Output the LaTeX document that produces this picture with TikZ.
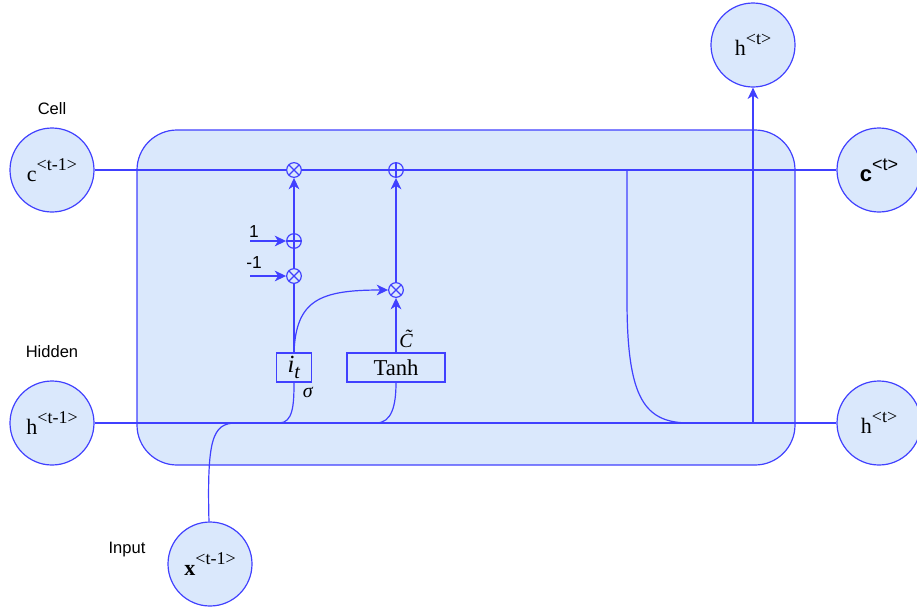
\documentclass[tikz,border=0pt]{standalone}
\usepackage{amsmath}
\usepackage{fontspec}
\setmainfont{Liberation Serif}
\setsansfont{Liberation Sans}
\usepackage[HTML]{xcolor}
\usepackage{tikz}
\usetikzlibrary{positioning, arrows, arrows.meta}

\definecolor{cellfill}{HTML}{DAE8FC}
\definecolor{cellline}{HTML}{4040FF}
\newcommand{\tsup}[1]{\raisebox{0.5em}{\fontsize{13.5}{14}\selectfont #1}}

\begin{document}
\begin{tikzpicture}[x=0.75pt, y=-0.75pt,
  state/.style={circle, draw=cellline, fill=cellfill, line width=0.9pt, minimum size=63pt, inner sep=0pt, font=\fontsize{16.5}{18}\selectfont},
  gate/.style={circle, draw=cellline, fill=cellfill, line width=0.9pt, minimum size=11pt, inner sep=0pt},
  mul/.style={gate, path picture={\draw[cellline, line width=0.9pt] (path picture bounding box.north west) -- (path picture bounding box.south east) (path picture bounding box.north east) -- (path picture bounding box.south west);}},
  add/.style={gate, path picture={\draw[cellline, line width=0.9pt] (path picture bounding box.north) -- (path picture bounding box.south) (path picture bounding box.west) -- (path picture bounding box.east);}},
  opbox/.style={draw=cellline, fill=cellfill, line width=0.9pt, inner sep=0pt, minimum height=21.75pt},
  lbl/.style={font=\sffamily\fontsize{12.4}{14}\selectfont},
  wire/.style={draw=cellline, line width=0.9pt},
  arr/.style={wire, -{Stealth[length=8.5pt, width=8pt, inset=2.5pt]}}]
\useasboundingbox (0,0) rectangle (917,611);
% Cell body
\draw[draw=cellline, fill=cellfill, line width=0.9pt, rounded corners=30pt] (137,130) rectangle (795,465);
% States
\node[state] (cprev) at (52,170) {c\tsup{<t-1>}};
\node[state] (hprev) at (52,423) {h\tsup{<t-1>}};
\node[state] (xin) at (210,564) {\textbf{x}\tsup{<t-1>}};
\node[state] (cnext) at (879,170) {\sffamily\textbf{c}\tsup{<t>}};
\node[state] (hnext) at (879,423) {h\tsup{<t>}};
\node[state] (hout) at (753,45) {h\tsup{<t>}};
\node[lbl] (celllbl) at (52,109) {Cell};
\node[lbl] (hidlbl) at (52,352) {Hidden};
\node[lbl] (inlbl) at (127,550) {Input};
% Gates
\node[mul] (fmul) at (294,170) {};
\node[add] (cadd) at (396,170) {};
\node[add] (nadd) at (294,241) {};
\node[mul] (nmul) at (294,276) {};
\node[mul] (cmul) at (396,290) {};
\node[opbox, minimum width=26.25pt, font=\fontsize{18.5}{20}\selectfont] (it) at (294,367.5) {\textit{i}\raisebox{-0.22em}{\fontsize{15}{16}\selectfont\textit{t}}};
\node[opbox, minimum width=73.5pt, font=\fontsize{17}{19}\selectfont] (tanh) at (396,367.5) {Tanh};
\node[font=\fontsize{15}{16}\selectfont] (sig) at (308,392) {\textit{σ}};
\node[font=\fontsize{15}{16}\selectfont] (ctil) at (410,339) {\textit{\~{C}}};
\node[lbl, font=\sffamily\fontsize{13}{14}\selectfont] (one) at (254,232) {1};
\node[lbl, font=\sffamily\fontsize{13}{14}\selectfont] (mone) at (254,263) {-1};
\coordinate (onein) at (250,241);
\coordinate (monein) at (250,276);
\coordinate (cbr) at (627,170);
\coordinate (hbr) at (690,423);
\coordinate (hup) at (753,423);
\coordinate (xjoin) at (236,423);
\coordinate (ijoin) at (279,423);
\coordinate (tjoin) at (376,423);
% Cell state
\draw[wire] (cprev) -- (fmul);
\draw[wire] (fmul) -- (cadd);
\draw[wire] (cadd) -- (cnext);
% Hidden state
\draw[wire] (hprev) -- (hnext);
\draw[arr] (hup) -- (hout);
\draw[wire] (cbr) -- (627,300) .. controls (627,400) and (645,423) .. (hbr);
\draw[wire] (xin) .. controls (207,440) and (212,423) .. (xjoin);
% Gate wiring
\draw[wire] (ijoin) .. controls (293,423) and (294,405) .. (it);
\draw[wire] (tjoin) .. controls (392,423) and (396,405) .. (tanh);
\draw[wire] (it) -- (nmul);
\draw[wire] (nmul) -- (nadd);
\draw[arr] (nadd) -- (fmul);
\draw[arr] (onein) -- (nadd);
\draw[arr] (monein) -- (nmul);
\draw[arr] (it.north) .. controls (296,300) and (320,290) .. (cmul);
\draw[arr] (tanh) -- (cmul);
\draw[arr] (cmul) -- (cadd);
\end{tikzpicture}
\end{document}
